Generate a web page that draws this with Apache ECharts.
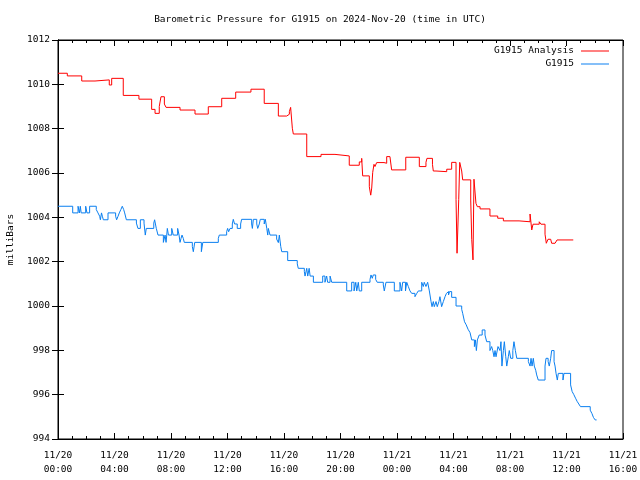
<!DOCTYPE html>
<html><head><meta charset="utf-8">
<script src="https://cdn.jsdelivr.net/npm/echarts@6/dist/echarts.min.js"></script>
<style>html,body{margin:0;padding:0;background:#fff}#c{width:640px;height:480px}</style>
</head><body><div id="c"></div><script>
// hours since 11/20 00:00 UTC
const analysisTimes = [
 0, 0.66, 1.68, 2.62, 3.63, 3.80, 4.62, 5.73, 6.63, 6.87,
 7.17, 7.29, 7.53, 7.65, 8.64, 9.70, 10.64, 11.59, 12.58, 13.66,
 14.60, 15.60, 16.19, 16.38, 16.47, 16.59, 16.66, 17.61, 18.62, 19.61,
 20.62, 21.33, 21.50, 21.57, 22.04, 22.14, 22.21, 22.28, 22.37, 22.44,
 22.56, 23.08, 23.27, 23.50, 23.62, 24.62, 25.58, 26.05, 26.12, 26.51,
 26.57, 26.76, 27.52, 27.87, 28.18, 28.25, 28.37, 28.44, 28.58, 28.65,
 29.22, 29.29, 29.38, 29.45, 29.59, 29.69, 29.88, 30.58, 31.13, 31.53,
 32.64, 33.42, 33.54, 33.63, 34.07, 34.19, 34.48, 34.57, 34.69, 34.88,
 34.95, 35.19, 35.33, 36.48
];
const analysisValues = [
 1010.50, 1010.38, 1010.15, 1010.20, 1009.97, 1010.27, 1009.50, 1009.33, 1008.87, 1008.69,
 1009.00, 1009.44, 1009.11, 1008.96, 1008.84, 1008.66, 1008.99, 1009.37, 1009.65, 1009.78,
 1009.14, 1008.57, 1008.65, 1008.77, 1008.96, 1008.02, 1007.76, 1006.74, 1006.84, 1006.77,
 1006.35, 1006.50, 1006.66, 1005.87, 1005.38, 1005.00, 1005.32, 1006.03, 1006.39, 1006.29,
 1006.47, 1006.44, 1006.74, 1006.69, 1006.14, 1006.71, 1006.29, 1006.48, 1006.66, 1006.39,
 1006.09, 1006.06, 1006.17, 1006.48, 1004.80, 1002.38, 1004.80, 1006.48, 1006.09, 1005.69,
 1004.78, 1003.01, 1002.08, 1005.72, 1004.63, 1004.48, 1004.38, 1004.06, 1003.96, 1003.84,
 1003.80, 1004.15, 1003.43, 1003.69, 1003.80, 1003.69, 1003.24, 1002.83, 1003.01, 1002.95,
 1002.83, 1002.90, 1002.98, 1002.98
];
const stationTimes = [
 0, 1.04, 1.42, 1.52, 1.58, 1.64, 1.96, 2.05, 2.24, 2.71,
 2.83, 2.95, 3.00, 3.08, 3.14, 3.21, 3.54, 4.08, 4.15, 4.25,
 4.34, 4.45, 4.55, 4.65, 4.72, 4.84, 5.55, 5.66, 5.83, 6.09,
 6.18, 6.25, 6.78, 6.84, 6.96, 7.08, 7.46, 7.58, 7.65, 7.70,
 7.74, 7.82, 8.05, 8.16, 8.47, 8.57, 8.64, 8.71, 8.78, 8.87,
 8.94, 9.51, 9.58, 9.68, 10.15, 10.25, 11.35, 11.42, 11.94, 12.01,
 12.08, 12.18, 12.34, 12.41, 12.50, 12.69, 12.93, 13.00, 13.71, 13.76,
 13.83, 14.07, 14.14, 14.25, 14.32, 14.60, 14.68, 14.78, 14.85, 14.89,
 15.01, 15.48, 15.60, 15.67, 15.77, 15.84, 16.26, 16.94, 17.01, 17.44,
 17.49, 17.61, 17.68, 17.78, 17.85, 18.08, 18.74, 18.90, 19.02, 19.09,
 19.26, 19.38, 20.44, 20.79, 20.96, 21.08, 21.15, 21.26, 21.33, 21.50,
 22.09, 22.16, 22.25, 22.32, 22.49, 22.60, 23.03, 23.10, 23.22, 23.81,
 24.21, 24.33, 24.40, 24.60, 24.69, 24.80, 24.92, 25.04, 25.27, 25.40,
 25.51, 25.75, 25.86, 25.93, 26.05, 26.17, 26.29, 26.41, 26.48, 26.57,
 26.64, 26.76, 26.85, 26.97, 27.04, 27.16, 27.28, 27.40, 27.50, 27.58,
 27.65, 27.72, 27.87, 28.18, 28.58, 28.65, 28.78, 28.90, 29.03, 29.17,
 29.29, 29.48, 29.55, 29.62, 29.69, 29.82, 30.03, 30.23, 30.35, 30.58,
 30.70, 30.78, 30.87, 30.94, 31.01, 31.15, 31.29, 31.36, 31.43, 31.53,
 31.60, 31.70, 31.77, 31.88, 31.95, 32.05, 32.20, 32.28, 32.38, 32.48,
 33.30, 33.42, 33.49, 33.56, 33.65, 33.72, 33.82, 33.89, 34.00, 34.48,
 34.55, 34.70, 34.78, 34.88, 34.95, 35.12, 35.19, 35.26, 35.35, 35.42,
 35.75, 35.82, 36.29, 36.40, 36.52, 36.64, 36.75, 36.87, 36.99, 37.68,
 37.80, 37.91, 38.03, 38.13
];
const stationValues = [
 1004.50, 1004.20, 1004.50, 1004.20, 1004.50, 1004.20, 1004.50, 1004.20, 1004.50, 1004.35,
 1004.20, 1004.05, 1003.89, 1004.20, 1004.05, 1003.89, 1004.20, 1004.05, 1003.89, 1004.05,
 1004.20, 1004.35, 1004.50, 1004.35, 1004.20, 1003.89, 1003.74, 1003.50, 1003.89, 1003.74,
 1003.20, 1003.50, 1003.74, 1003.89, 1003.50, 1003.20, 1002.87, 1003.20, 1002.87, 1003.20,
 1003.50, 1003.20, 1003.50, 1003.20, 1003.50, 1003.20, 1002.87, 1003.05, 1003.20, 1003.05,
 1002.87, 1002.68, 1002.45, 1002.87, 1002.45, 1002.87, 1003.05, 1003.20, 1003.35, 1003.50,
 1003.35, 1003.50, 1003.70, 1003.91, 1003.70, 1003.50, 1003.70, 1003.91, 1003.70, 1003.50,
 1003.91, 1003.70, 1003.50, 1003.70, 1003.91, 1003.70, 1003.91, 1003.50, 1003.20, 1003.50,
 1003.20, 1003.02, 1002.86, 1003.20, 1002.68, 1002.45, 1002.05, 1001.90, 1001.70, 1001.55,
 1001.35, 1001.70, 1001.35, 1001.70, 1001.35, 1001.07, 1001.35, 1001.07, 1001.35, 1001.07,
 1001.35, 1001.07, 1000.68, 1001.07, 1000.68, 1001.07, 1000.68, 1001.07, 1000.68, 1001.07,
 1001.20, 1001.40, 1001.25, 1001.40, 1001.20, 1001.07, 1000.95, 1000.68, 1001.07, 1000.68,
 1001.07, 1000.68, 1001.07, 1000.68, 1001.07, 1000.88, 1000.68, 1000.57, 1000.42, 1000.57,
 1000.68, 1001.07, 1000.88, 1001.07, 1000.88, 1001.07, 1000.68, 1000.20, 999.97, 1000.20,
 999.97, 1000.20, 999.97, 1000.20, 1000.42, 999.97, 1000.20, 1000.42, 1000.57, 1000.65,
 1000.50, 1000.65, 1000.39, 1000.00, 999.85, 999.67, 999.29, 999.15, 998.95, 998.80,
 998.47, 998.17, 998.47, 997.99, 998.47, 998.69, 998.92, 998.69, 998.39, 997.99,
 998.17, 997.99, 997.71, 997.99, 997.71, 998.17, 997.99, 998.39, 997.29, 997.99,
 998.39, 997.71, 997.29, 997.71, 997.99, 997.64, 997.99, 998.39, 997.99, 997.64,
 997.49, 997.29, 997.64, 997.29, 997.64, 997.29, 997.10, 996.89, 996.66, 997.29,
 997.64, 997.49, 997.29, 997.64, 997.99, 997.49, 997.29, 996.96, 996.66, 996.96,
 996.66, 996.96, 996.44, 996.14, 996.00, 995.84, 995.70, 995.58, 995.46, 995.30,
 995.15, 994.97, 994.86, 994.86
];
const seriesNames = ['G1915 Analysis', 'G1915'];
const xTickLabels = ['11/20\n00:00','11/20\n04:00','11/20\n08:00','11/20\n12:00','11/20\n16:00','11/20\n20:00',
 '11/21\n00:00','11/21\n04:00','11/21\n08:00','11/21\n12:00','11/21\n16:00'];
const yTickValues = [994, 996, 998, 1000, 1002, 1004, 1006, 1008, 1010, 1012];

const FONT = 'DejaVu Sans Mono';
const FS = 9.5;
function pairs(t, v) { return t.map((x, i) => [x, v[i]]); }
const txt = { fontFamily: FONT, fontSize: FS, color: '#000' };

const chart = echarts.init(document.getElementById('c'), null, { renderer: 'canvas' });
const xBase = {
  type: 'value', min: 0, max: 40, interval: 4,
  axisLine: { show: true, lineStyle: { color: '#000', width: 1 } },
  axisTick: { show: true, inside: true, length: 6, lineStyle: { color: '#000' } },
  minorTick: { show: true, splitNumber: 4, length: 3, lineStyle: { color: '#000' } },
  splitLine: { show: false }
};
const yBase = {
  type: 'value', min: yTickValues[0], max: yTickValues[yTickValues.length - 1], interval: 2,
  axisLine: { show: true, lineStyle: { color: '#000', width: 1 } },
  axisTick: { show: true, inside: true, length: 6, lineStyle: { color: '#000' } },
  splitLine: { show: false }
};
const legendBase = { right: 26, align: 'right', icon: 'rect', itemWidth: 28, itemHeight: 1, itemGap: 0,
  textStyle: Object.assign({ padding: [0, 2, 0, 0] }, txt), selectedMode: false };
chart.setOption({
  animation: false,
  backgroundColor: '#fff',
  title: { text: 'Barometric Pressure for G1915 on 2024-Nov-20 (time in UTC)', left: 'center', top: 10,
    textStyle: Object.assign({ fontWeight: 'normal' }, txt) },
  legend: [
    Object.assign({ data: [seriesNames[0]], top: 41 }, legendBase),
    Object.assign({ data: [seriesNames[1]], top: 54 }, legendBase)
  ],
  grid: { left: 58, right: 17, top: 40, bottom: 41, show: true, borderColor: '#000', borderWidth: 1,
    backgroundColor: 'transparent', containLabel: false, outerBoundsMode: 'none' },
  xAxis: [
    Object.assign({}, xBase, { position: 'bottom',
      axisLabel: Object.assign({ formatter: v => xTickLabels[Math.round(v / 4)], lineHeight: 14, margin: 10 }, txt) }),
    Object.assign({}, xBase, { position: 'top', axisLabel: { show: false } })
  ],
  yAxis: [
    Object.assign({}, yBase, { position: 'left', name: 'milliBars', nameLocation: 'middle', nameGap: 42, nameRotate: 90,
      nameTextStyle: txt, axisLabel: Object.assign({ margin: 8, formatter: v => String(v) }, txt) }),
    Object.assign({}, yBase, { position: 'right', axisLabel: { show: false } })
  ],
  series: [
    { name: seriesNames[0], type: 'line', step: 'end', symbol: 'none', data: pairs(analysisTimes, analysisValues),
      lineStyle: { color: '#ff0000', width: 1 }, itemStyle: { color: '#ff0000' } },
    { name: seriesNames[1], type: 'line', step: 'end', symbol: 'none', data: pairs(stationTimes, stationValues),
      lineStyle: { color: '#0a7ff0', width: 1 }, itemStyle: { color: '#0a7ff0' } }
  ]
});
</script></body></html>
